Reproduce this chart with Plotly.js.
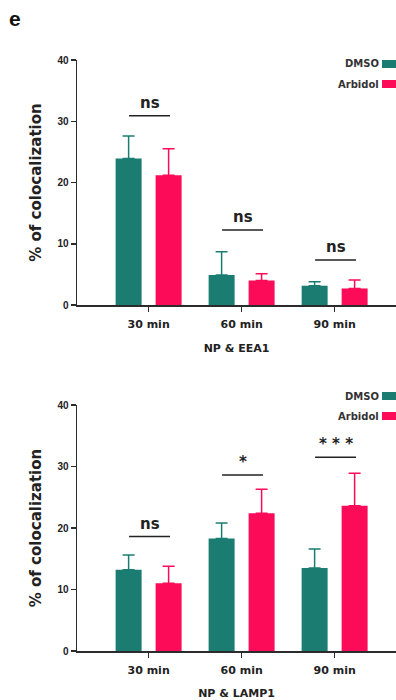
<!DOCTYPE html>
<html>
<head>
<meta charset="utf-8">
<script src="https://cdn.plot.ly/plotly-3.0.1.min.js"></script>
<style>
  html, body { margin: 0; padding: 0; background: #ffffff; overflow: hidden; }
  #chart { width: 396px; height: 700px; }
</style>
</head>
<body>
<div id="chart"></div>
<script>
// ---- data ----
const categories = ['30 min', '60 min', '90 min'];

const eea1Dmso    = [23.9, 4.9, 3.15];
const eea1DmsoErr = [3.7, 3.8, 0.65];
const eea1Arb     = [21.2, 4.0, 2.7];
const eea1ArbErr  = [4.3, 1.1, 1.4];

const lamp1Dmso    = [13.2, 18.3, 13.5];
const lamp1DmsoErr = [2.4, 2.5, 3.1];
const lamp1Arb     = [11.0, 22.4, 23.6];
const lamp1ArbErr  = [2.8, 3.9, 5.3];

const eea1SigLabels  = ['ns', 'ns', 'ns'];
const eea1SigY       = [30.9, 12.25, 7.35];
const lamp1SigLabels = ['ns', '*', '* * *'];
const lamp1SigY      = [18.6, 28.6, 31.5];

const yTicks = [0, 10, 20, 30, 40];
const seriesNames = ['DMSO', 'Arbidol'];
const panelTitles = ['NP &amp; EEA1', 'NP &amp; LAMP1'];

// ---- styles ----
const TEAL = '#1b7d72';
const PINK = '#fb0b58';
const AX = '#2b2b2b';
const BOLD = 'DejaVu Sans';

function barTrace(name, y, err, color, xa, ya) {
  return {
    type: 'bar', name: name, x: categories, y: y,
    xaxis: xa, yaxis: ya, showlegend: false,
    marker: { color: color, line: { width: 0 } },
    error_y: { type: 'data', symmetric: false, array: err,
               arrayminus: err.map(() => 0), color: color,
               thickness: 1.5, width: 6 }
  };
}

const data = [
  barTrace(seriesNames[0], eea1Dmso, eea1DmsoErr, TEAL, 'x', 'y'),
  barTrace(seriesNames[1], eea1Arb, eea1ArbErr, PINK, 'x', 'y'),
  barTrace(seriesNames[0], lamp1Dmso, lamp1DmsoErr, TEAL, 'x2', 'y2'),
  barTrace(seriesNames[1], lamp1Arb, lamp1ArbErr, PINK, 'x2', 'y2')
];

const H = 700;
const py = px => 1 - px / H;               // pixel row -> paper y
const plotL = 77, plotR = 396;
const pxp = px => (px - plotL) / (plotR - plotL); // pixel col -> paper x

function xAxis(title, anchor) {
  return {
    type: 'category', range: [-0.77, 2.66], anchor: anchor,
    showline: true, linecolor: AX, linewidth: 1.5,
    ticks: 'outside', ticklen: 5, tickwidth: 1.5, tickcolor: AX,
    tickfont: { family: BOLD, size: 11, color: '#222', weight: 'bold' },
    ticklabelstandoff: 3,
    showgrid: false, zeroline: false, fixedrange: true,
    title: { text: '<b>' + title + '</b>', standoff: 14,
             font: { family: BOLD, size: 11, color: '#222' } },
    automargin: false
  };
}
function yAxis(domain, anchor) {
  return {
    domain: domain, range: [0, 40], anchor: anchor,
    tickvals: yTicks, ticktext: yTicks.map(String),
    showline: true, linecolor: AX, linewidth: 1.5,
    ticks: 'outside', ticklen: 5, tickwidth: 1.5, tickcolor: AX,
    tickfont: { family: 'Liberation Sans', size: 10, color: '#222', weight: 'bold' },
    showgrid: false, zeroline: false, fixedrange: true,
    title: { text: '<b>% of colocalization</b>', standoff: 12,
             font: { family: BOLD, size: 15, color: '#222' } },
    automargin: false
  };
}

const shapes = [];
const annotations = [];

function addSig(labels, ys, xa, ya) {
  labels.forEach((lab, i) => {
    shapes.push({ type: 'line', xref: xa, yref: ya,
      x0: i - 0.21, x1: i + 0.23, y0: ys[i], y1: ys[i],
      line: { color: '#222', width: 1.5 } });
    annotations.push({ xref: xa, yref: ya, x: i + 0.01, y: ys[i],
      text: '<b>' + lab + '</b>', showarrow: false,
      yanchor: 'bottom', yshift: 2,
      font: { family: BOLD, size: 15, color: '#222' } });
  });
}
addSig(eea1SigLabels, eea1SigY, 'x', 'y');
addSig(lamp1SigLabels, lamp1SigY, 'x2', 'y2');

// legends (text left of swatch), drawn per panel
function addLegend(topPx) {
  const colors = [TEAL, PINK];
  seriesNames.forEach((nm, i) => {
    const cy = topPx + i * 20;
    shapes.push({ type: 'rect', xref: 'paper', yref: 'paper',
      x0: pxp(382), x1: pxp(397), y0: py(cy + 4), y1: py(cy - 4),
      fillcolor: colors[i], line: { width: 0 } });
    annotations.push({ xref: 'paper', yref: 'paper', x: pxp(380.5), y: py(cy),
      xanchor: 'right', yanchor: 'middle', showarrow: false,
      text: '<b>' + nm + '</b>',
      font: { family: BOLD, size: 10, color: '#333' } });
  });
}
addLegend(64);
addLegend(396);

// panel letter
annotations.push({ xref: 'paper', yref: 'paper', x: pxp(14.5), y: py(19),
  xanchor: 'center', yanchor: 'middle', showarrow: false,
  text: '<b>e</b>', font: { family: 'Liberation Sans', size: 21, color: '#111' } });

const layout = {
  width: 396, height: H,
  margin: { l: plotL, r: 0, t: 0, b: 0 },
  paper_bgcolor: '#ffffff', plot_bgcolor: '#ffffff',
  barmode: 'group', bargap: 0.14, bargroupgap: 0.35,
  xaxis: xAxis(panelTitles[0], 'y'),
  yaxis: yAxis([py(305), py(60)], 'x'),
  xaxis2: xAxis(panelTitles[1], 'y2'),
  yaxis2: yAxis([py(651), py(405)], 'x2'),
  shapes: shapes, annotations: annotations,
  showlegend: false
};

Plotly.newPlot('chart', data, layout, { displayModeBar: false, staticPlot: true });
</script>
</body>
</html>
